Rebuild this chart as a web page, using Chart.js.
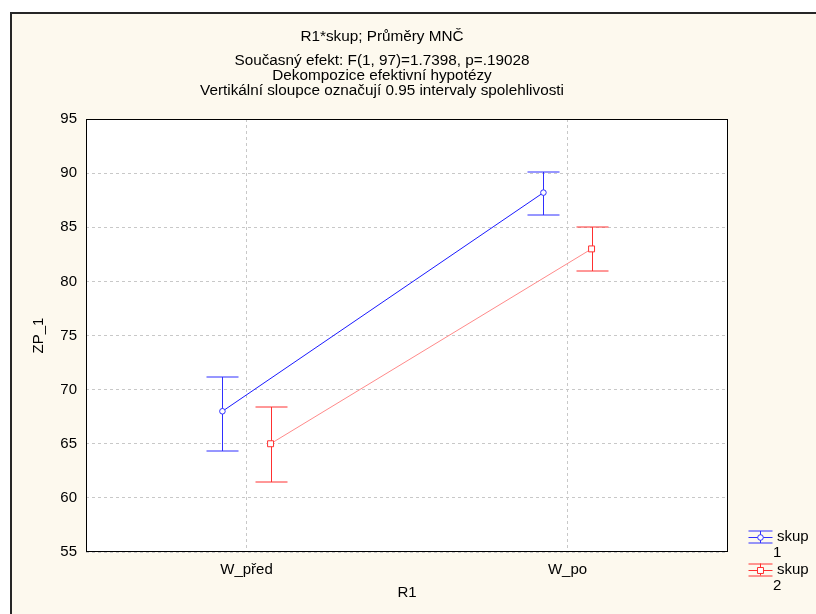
<!DOCTYPE html>
<html>
<head>
<meta charset="utf-8">
<script src="https://cdn.jsdelivr.net/npm/chart.js@4.4.1/dist/chart.umd.min.js"></script>
<style>
  html, body { margin: 0; padding: 0; background: #fff; }
  #wrap { width: 816px; height: 614px; }
</style>
</head>
<body>
<div id="wrap"><canvas id="meansChart" width="816" height="614"></canvas></div>
<script>
// data
const categories = ['W_před', 'W_po'];
const groupNames = ['skup 1', 'skup 2'];
const skup1Means = [68.0, 88.2];
const skup1Lower = [64.3, 86.1];
const skup1Upper = [71.2, 90.1];
const skup2Means = [65.0, 83.0];
const skup2Lower = [61.5, 81.0];
const skup2Upper = [68.4, 85.0];
const yTicksMin = 55, yTicksMax = 95, yTicksStep = 5;

const titleLines = [
    'R1*skup; Průměry MNČ',
    'Současný efekt: F(1, 97)=1.7398, p=.19028',
    'Dekompozice efektivní hypotézy',
    'Vertikální sloupce označují 0.95 intervaly spolehlivosti'
];

const FONT = '"Liberation Sans", Arial, sans-serif';
const blue = '#1a1aff', blueBar = '#2f2fff';
const red = '#ff8a8a', redBar = '#ff3030';
const dodge = 0.075; // posun skupin vedle sebe

const errorData = [
    { lower: skup1Lower, upper: skup1Upper, color: blueBar },
    { lower: skup2Lower, upper: skup2Upper, color: redBar }
];

const toPoints = (means, shift) => categories.map((c, i) => ({ x: i + shift, y: means[i] }));

// pozadí, rámeček, chybové úsečky, titulky a legenda
const statPlugin = {
    id: 'statStyle',
    beforeDraw(chart) {
        const { ctx, chartArea: a } = chart;
        ctx.save();
        ctx.fillStyle = '#ffffff';
        ctx.fillRect(0, 0, chart.width, chart.height);
        ctx.fillStyle = '#fdf9ee';
        ctx.fillRect(12, 14, chart.width - 12, chart.height - 14);
        ctx.strokeStyle = '#262626';
        ctx.lineWidth = 2;
        ctx.beginPath();
        ctx.moveTo(11, chart.height);
        ctx.lineTo(11, 13);
        ctx.lineTo(chart.width, 13);
        ctx.stroke();
        ctx.fillStyle = '#ffffff';
        ctx.fillRect(a.left, a.top, a.right - a.left, a.bottom - a.top);
        ctx.restore();
    },
    beforeDatasetsDraw(chart) {
        const { ctx } = chart;
        const yScale = chart.scales.y;
        ctx.save();
        ctx.lineWidth = 1;
        errorData.forEach((e, di) => {
            const meta = chart.getDatasetMeta(di);
            ctx.strokeStyle = e.color;
            meta.data.forEach((pt, j) => {
                const x = Math.round(pt.x) + 0.5;
                const yHi = Math.round(yScale.getPixelForValue(e.upper[j]));
                const yLo = Math.round(yScale.getPixelForValue(e.lower[j]));
                ctx.beginPath();
                ctx.moveTo(x, yHi);
                ctx.lineTo(x, yLo);
                ctx.moveTo(x - 16, yHi);
                ctx.lineTo(x + 16, yHi);
                ctx.moveTo(x - 16, yLo);
                ctx.lineTo(x + 16, yLo);
                ctx.stroke();
            });
        });
        ctx.restore();
    },
    afterDraw(chart) {
        const { ctx, chartArea: a } = chart;
        ctx.save();
        // rámeček plochy grafu
        ctx.strokeStyle = '#000';
        ctx.lineWidth = 1;
        ctx.strokeRect(a.left + 0.5, a.top + 0.5, a.right - a.left - 1, a.bottom - a.top - 1);

        // titulky
        ctx.fillStyle = '#000';
        ctx.font = '15.3px ' + FONT;
        ctx.textAlign = 'center';
        ctx.textBaseline = 'alphabetic';
        const baselines = [41, 65, 80, 95];
        titleLines.forEach((t, i) => ctx.fillText(t, 382, baselines[i]));

        // legenda
        ctx.font = '15px ' + FONT;
        const rows = [537, 569.5];
        chart.data.datasets.forEach((ds, i) => {
            const cy = rows[i];
            const cx = 760.5;
            ctx.lineWidth = 1;
            ctx.strokeStyle = errorData[i].color;
            ctx.beginPath();
            ctx.moveTo(cx - 12, Math.round(cy - 6));
            ctx.lineTo(cx + 12, Math.round(cy - 6));
            ctx.moveTo(cx - 12, Math.round(cy + 6));
            ctx.lineTo(cx + 12, Math.round(cy + 6));
            ctx.moveTo(cx - 12, Math.round(cy) + 0.5);
            ctx.lineTo(cx + 12, Math.round(cy) + 0.5);
            ctx.moveTo(cx, cy - 6);
            ctx.lineTo(cx, cy + 6);
            ctx.stroke();
            ctx.fillStyle = '#fff';
            ctx.strokeStyle = ds.pointBorderColor;
            Chart.helpers.drawPoint(ctx, {
                pointStyle: ds.pointStyle,
                radius: ds.pointRadius,
                borderWidth: 1
            }, cx, Math.round(cy) + 0.5);
            ctx.fillStyle = '#000';
            const parts = ds.label.split(' ');
            ctx.textAlign = 'left';
            ctx.textBaseline = 'middle';
            ctx.fillText(parts[0], 777, cy);
            ctx.fillText(parts[1], 773, cy + 16);
        });
        ctx.restore();
    }
};

const ctx = document.getElementById('meansChart').getContext('2d');

const meansChart = new Chart(ctx, {
    type: 'line',
    data: {
        datasets: [{
            label: groupNames[0],
            data: toPoints(skup1Means, -dodge),
            borderColor: blue,
            borderWidth: 1,
            pointStyle: 'circle',
            pointRadius: 2.8,
            pointBorderWidth: 1,
            pointBackgroundColor: '#fff',
            pointBorderColor: blueBar,
            fill: false
        }, {
            label: groupNames[1],
            data: toPoints(skup2Means, dodge),
            borderColor: red,
            borderWidth: 1,
            pointStyle: 'rect',
            pointRadius: 4.2,
            pointBorderWidth: 1,
            pointBackgroundColor: '#fff',
            pointBorderColor: redBar,
            fill: false
        }]
    },
    options: {
        responsive: false,
        animation: false,
        devicePixelRatio: 1,
        events: [],
        layout: { padding: { top: 119, right: 88, left: 0, bottom: 0 } },
        scales: {
            x: {
                type: 'linear',
                min: -0.5,
                max: 1.5,
                afterBuildTicks: (s) => { s.ticks = categories.map((c, i) => ({ value: i })); },
                afterFit: (s) => { s.height = 62; },
                grid: { color: '#c8c8c8', drawTicks: false },
                border: { display: false, dash: [3, 3] },
                ticks: {
                    color: '#000',
                    padding: 9,
                    font: { family: FONT, size: 15 },
                    callback: (v) => categories[v] ?? ''
                },
                title: {
                    display: true,
                    text: 'R1',
                    color: '#000',
                    font: { family: FONT, size: 15 },
                    padding: { bottom: 12 }
                }
            },
            y: {
                min: yTicksMin,
                max: yTicksMax,
                afterFit: (s) => { s.width = 86; },
                grid: { color: '#c8c8c8', drawTicks: false },
                border: { display: false, dash: [3, 3] },
                ticks: {
                    stepSize: yTicksStep,
                    color: '#000',
                    padding: 9,
                    font: { family: FONT, size: 15 }
                },
                title: {
                    display: true,
                    text: 'ZP_1',
                    color: '#000',
                    font: { family: FONT, size: 15 },
                    padding: { top: 30 }
                }
            }
        },
        plugins: {
            legend: { display: false },
            tooltip: { enabled: false },
            title: { display: false }
        }
    },
    plugins: [statPlugin]
});
</script>
</body>
</html>
